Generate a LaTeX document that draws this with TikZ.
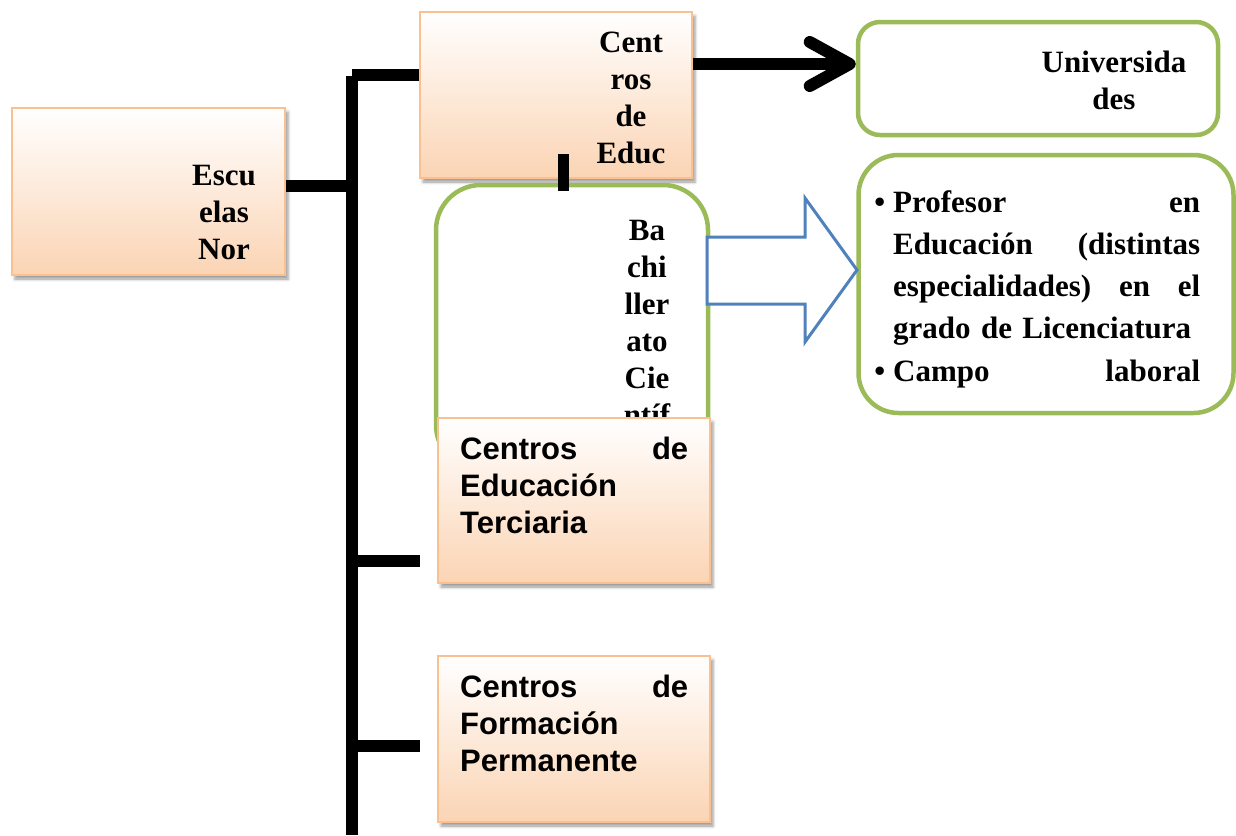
\documentclass[tikz,border=0pt]{standalone}
\usepackage{fontspec}
\setmainfont{Liberation Serif}
\setsansfont{Liberation Sans}
\usetikzlibrary{shadows.blur,arrows.meta}
\definecolor{oborder}{HTML}{FAC090}
\definecolor{ofill}{HTML}{FBD4B4}
\definecolor{gborder}{HTML}{9BBB59}
\definecolor{bborder}{HTML}{4F81BD}
\tikzset{
  obox/.style={draw=oborder, line width=2pt, top color=white, bottom color=ofill,
    minimum width=272pt, minimum height=166pt, inner sep=0pt,
    blur shadow={shadow xshift=3pt, shadow yshift=-4pt, shadow blur radius=3pt, shadow opacity=40}},
  gbox/.style={draw=gborder, line width=4.5pt, fill=white, inner sep=0pt},
  serif text/.style={font=\bfseries\fontsize{31}{37}\selectfont, text width=200pt, align=center, inner sep=0pt, anchor=base},
  sans text/.style={font=\sffamily\bfseries\fontsize{31}{37}\selectfont, text width=228pt, align=left, inner sep=0pt, anchor=base west},
  list text/.style={font=\bfseries\fontsize{31}{42.3}\selectfont, text width=307pt, align=left, inner sep=0pt, anchor=base west},
  conn/.style={line width=12pt},
  blockarrow/.style={draw=bborder, line width=3pt, fill=white, line join=miter},
}
\begin{document}
\begin{tikzpicture}[x=1pt,y=-1pt]
\useasboundingbox (0,0) rectangle (1236,835);
% boxes
\node[obox, minimum width=273pt, minimum height=167pt] (esc) at (148.5,191.5) {};
\node[obox] (ced) at (556,95) {};
\node[gbox, minimum width=360pt, minimum height=113pt, rounded corners=22pt] (uni) at (1038,78.5) {};
\node[gbox, minimum width=272pt, minimum height=285pt, rounded corners=45pt] (bach) at (572,327.5) {};
\node[gbox, minimum width=375pt, minimum height=258pt, rounded corners=40pt] (prof) at (1046,284) {};
% texts
\node[serif text] (escT) at (224,185) {Escu\\elas\\Nor};
\node[serif text] (cedT) at (631,52) {Cent\\ros\\de\\Educ};
\node[serif text] (uniT) at (1114,72) {Universida\\des};
\node[serif text] (bachT) at (647,240) {Ba\\chi\\ller\\ato\\Cie\\ntíf};
\node[list text] (profT) at (893,212) {\leavevmode\llap{\textbullet\hspace{8pt}}Profesor\hfill en\\Educación\hfill (distintas\\especialidades)\hfill en\hfill el\\grado de Licenciatura\\\leavevmode\llap{\textbullet\hspace{8pt}}Campo\hfill laboral};
% lower boxes
\node[obox, minimum height=165pt] (ter) at (574,500.5) {};
\node[obox] (per) at (574,739) {};
\node[sans text] (terT) at (460,459) {Centros\hfill de\\Educación\\Terciaria};
\node[sans text] (perT) at (460,697) {Centros\hfill de\\Formación\\Permanente};
% connectors
\coordinate (trTop) at (352,76);
\coordinate (trBot) at (352,835);
\coordinate (bTop) at (352,75);
\coordinate (jE) at (352,186);
\coordinate (bTer) at (352,561);
\coordinate (eTer) at (420,561);
\coordinate (bPer) at (352,746);
\coordinate (ePer) at (420,746);
\coordinate (tA) at (563,154);
\coordinate (tB) at (563,191);
\draw[conn] (trTop) -- (trBot);
\draw[conn] (bTop) -- (bTop -| ced.west);
\draw[conn] (esc.east |- jE) -- (jE);
\draw[conn] (bTer) -- (eTer);
\draw[conn] (bPer) -- (ePer);
\draw[line width=11pt] (tA) -- (tB);
\draw[conn, -{Straight Barb[length=40pt, width=44pt, line width=12pt, round]}] ([yshift=31pt]ced.east) -- ([yshift=31pt]ced.east -| uni.west);
\draw[blockarrow] (707,237) -- (805,237) -- (805,198) -- (857,270) -- (805,342) -- (805,304) -- (707,304) -- cycle;
\end{tikzpicture}
\end{document}
